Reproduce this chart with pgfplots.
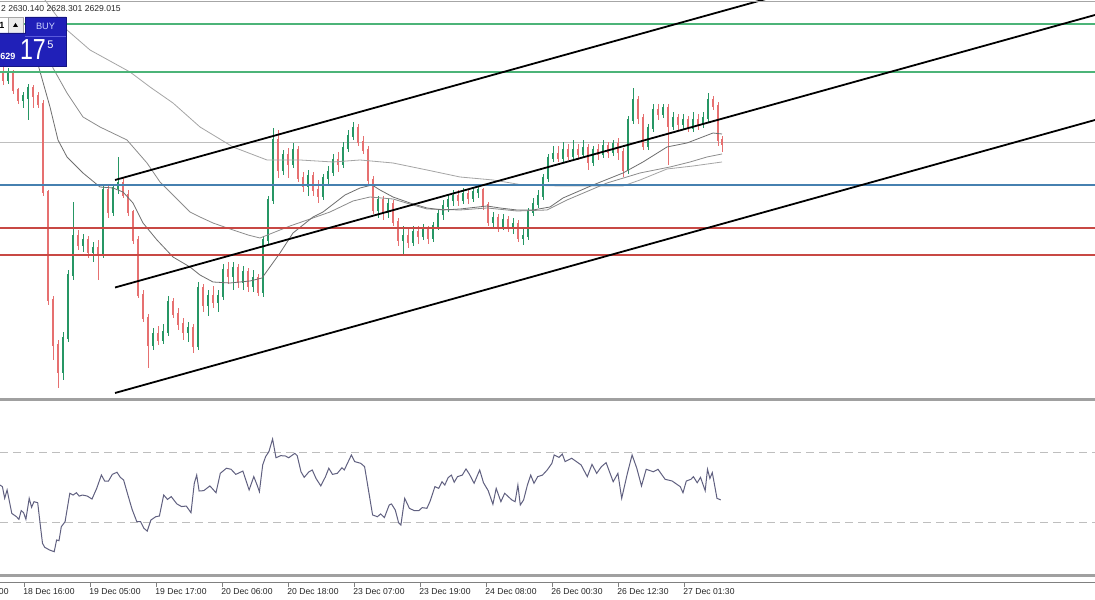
\documentclass[border=0pt]{standalone}
\usepackage{fontspec}
\setmainfont{Liberation Sans}
\usepackage{pgfplots}
\usepackage{pgfplotstable}
\pgfplotsset{compat=1.18}

\definecolor{bull}{RGB}{38,150,100}
\definecolor{bear}{RGB}{230,112,112}
\definecolor{lvgreen}{RGB}{76,180,120}
\definecolor{lvblue}{RGB}{70,128,176}
\definecolor{lvred}{RGB}{200,72,68}
\definecolor{bidgray}{RGB}{190,190,190}
\definecolor{mafast}{RGB}{110,110,110}
\definecolor{mamid}{RGB}{140,140,140}
\definecolor{maslow}{RGB}{165,165,165}
\definecolor{rsiline}{RGB}{96,96,128}
\definecolor{panelblue}{RGB}{32,32,184}
\definecolor{paneledge}{RGB}{20,20,130}
\definecolor{panelrule}{RGB}{90,90,220}
\definecolor{buytext}{RGB}{205,212,255}
\definecolor{frame}{RGB}{160,160,160}

% price candles, one every 5 px of the screen (x = screen column)
\pgfplotstableread{
x o h l c
3 2645.6 2646.8 2643.0 2644.0
8 2644.0 2646.4 2643.2 2645.2
13 2645.2 2646.0 2641.2 2642.0
18 2642.0 2642.4 2639.2 2640.0
23 2640.0 2641.6 2638.4 2640.8
28 2640.4 2643.2 2636.0 2642.4
33 2642.4 2643.0 2638.4 2640.8
38 2640.8 2641.6 2638.4 2639.2
43 2639.2 2640.0 2620.8 2621.6
48 2621.6 2622.0 2599.0 2600.0
53 2600.0 2600.8 2588.0 2591.0
58 2591.0 2592.0 2582.4 2585.6
63 2585.6 2593.6 2584.0 2592.4
68 2592.4 2606.0 2591.6 2605.0
73 2605.0 2619.6 2604.0 2612.8
78 2612.8 2614.0 2610.0 2611.0
83 2611.0 2613.2 2609.6 2612.0
88 2612.0 2612.8 2608.4 2609.6
93 2609.6 2611.6 2607.6 2610.4
98 2610.4 2612.0 2604.0 2609.0
103 2609.0 2622.8 2608.4 2622.0
108 2622.0 2622.8 2616.4 2617.6
113 2617.6 2623.2 2616.8 2622.4
118 2622.4 2628.6 2621.2 2623.4
123 2623.4 2624.4 2620.4 2621.0
128 2621.0 2622.0 2616.8 2617.6
133 2617.6 2618.0 2611.2 2612.0
138 2612.0 2612.8 2600.4 2601.0
143 2601.0 2602.0 2595.6 2596.4
148 2596.4 2597.2 2586.4 2591.0
153 2591.0 2594.4 2590.0 2593.2
158 2593.2 2594.8 2591.0 2592.0
163 2592.0 2595.2 2591.2 2593.6
168 2593.6 2600.8 2592.8 2599.6
173 2599.6 2600.4 2596.4 2597.2
178 2597.2 2598.4 2594.0 2595.2
183 2595.2 2596.4 2592.0 2593.6
188 2593.6 2595.6 2591.6 2594.4
193 2594.4 2595.2 2589.4 2590.8
198 2590.8 2603.6 2590.0 2602.4
203 2602.4 2603.2 2597.6 2599.0
208 2599.0 2602.0 2596.8 2600.8
213 2600.8 2602.8 2598.4 2599.6
218 2599.6 2602.0 2597.6 2600.8
223 2600.8 2607.2 2600.0 2606.0
228 2606.0 2607.6 2603.2 2604.8
233 2604.8 2607.6 2602.0 2606.4
238 2606.4 2607.2 2602.4 2603.6
243 2603.6 2606.8 2602.0 2605.6
248 2605.6 2606.4 2601.6 2602.8
253 2602.8 2606.0 2601.6 2604.4
258 2604.4 2605.2 2600.8 2601.6
263 2601.6 2612.8 2600.6 2612.0
268 2612.0 2620.8 2611.2 2620.0
273 2620.0 2634.4 2619.2 2632.0
278 2632.0 2634.0 2624.4 2626.0
283 2626.0 2630.0 2625.0 2629.0
288 2629.0 2630.4 2624.4 2627.2
293 2627.2 2631.4 2626.4 2630.0
298 2630.0 2630.8 2623.6 2624.4
303 2624.4 2625.6 2621.6 2622.8
308 2622.8 2626.0 2620.8 2624.8
313 2624.8 2625.6 2620.8 2622.0
318 2622.0 2624.0 2619.4 2620.8
323 2620.8 2625.2 2620.0 2624.4
328 2624.4 2626.8 2622.8 2625.6
333 2625.6 2629.2 2624.8 2628.0
338 2628.0 2629.6 2625.6 2627.2
343 2627.2 2631.6 2626.4 2630.4
348 2630.4 2634.0 2629.6 2632.8
353 2632.8 2635.6 2632.0 2634.4
358 2634.4 2635.2 2630.8 2631.6
363 2631.6 2632.8 2629.2 2630.0
368 2630.0 2630.8 2622.8 2624.0
373 2624.0 2624.8 2617.2 2618.0
378 2618.0 2620.8 2616.4 2620.0
383 2620.0 2620.8 2616.0 2617.6
388 2617.6 2620.4 2616.4 2619.2
393 2619.2 2620.0 2614.8 2615.6
398 2615.6 2616.4 2610.8 2612.0
403 2612.0 2614.8 2609.0 2612.8
408 2612.8 2614.4 2610.4 2611.6
413 2611.6 2614.8 2610.8 2613.6
418 2613.6 2614.8 2611.2 2612.8
423 2612.8 2615.2 2612.0 2614.0
428 2614.0 2614.8 2611.2 2612.4
433 2612.4 2615.6 2611.6 2614.8
438 2614.8 2618.0 2614.0 2617.2
443 2617.2 2620.0 2616.0 2618.8
448 2618.8 2621.2 2617.6 2620.0
453 2620.0 2622.0 2618.8 2620.8
458 2620.8 2622.0 2618.8 2620.0
463 2620.0 2622.4 2619.2 2621.2
468 2621.2 2622.0 2619.2 2620.4
473 2620.4 2622.4 2619.6 2621.6
478 2621.6 2622.8 2620.4 2622.0
483 2622.0 2622.4 2618.0 2619.0
488 2619.0 2619.6 2614.8 2615.6
493 2615.6 2617.6 2614.4 2616.4
498 2616.4 2617.2 2613.6 2614.8
503 2614.8 2617.2 2614.0 2616.0
508 2616.0 2616.8 2613.6 2614.4
513 2614.4 2616.4 2613.2 2615.2
518 2615.2 2616.0 2611.6 2612.4
523 2612.4 2614.4 2611.0 2612.8
528 2612.8 2618.4 2612.0 2617.6
533 2617.6 2620.4 2616.8 2619.2
538 2619.2 2622.0 2618.4 2620.8
543 2620.8 2625.2 2620.0 2624.4
548 2624.4 2629.2 2623.6 2628.4
553 2628.4 2630.8 2627.6 2629.2
558 2629.2 2630.8 2627.6 2628.4
563 2628.4 2631.6 2627.6 2630.0
568 2630.0 2631.2 2628.0 2628.8
573 2628.8 2632.0 2628.0 2630.0
578 2630.0 2631.2 2628.0 2629.2
583 2629.2 2632.0 2628.4 2630.4
588 2630.4 2631.2 2626.0 2627.6
593 2627.6 2630.8 2626.8 2630.0
598 2630.0 2631.2 2628.0 2629.2
603 2629.2 2632.0 2628.4 2630.8
608 2630.8 2631.6 2628.4 2629.6
613 2629.6 2632.0 2628.8 2631.2
618 2631.2 2632.4 2628.0 2629.6
623 2629.6 2630.4 2624.6 2626.0
628 2626.0 2636.8 2625.2 2636.0
633 2636.0 2642.4 2635.2 2640.0
638 2640.0 2640.8 2635.2 2636.4
643 2636.4 2637.2 2630.0 2630.8
648 2630.8 2635.2 2630.0 2634.4
653 2634.4 2639.2 2633.6 2638.0
658 2638.0 2639.2 2636.0 2637.2
663 2637.2 2639.2 2636.4 2638.4
668 2638.4 2639.2 2627.0 2634.8
673 2634.8 2637.6 2634.0 2636.4
678 2636.4 2637.2 2634.0 2635.2
683 2635.2 2637.2 2634.0 2636.0
688 2636.0 2636.8 2633.6 2634.4
693 2634.4 2637.6 2633.6 2636.0
698 2636.0 2637.2 2634.0 2635.2
703 2635.2 2637.6 2634.4 2636.4
708 2636.4 2641.4 2635.6 2640.0
713 2640.0 2640.8 2638.0 2638.8
718 2638.8 2639.6 2630.8 2632.0
722 2632.0 2632.8 2629.6 2631.2
}\candles

\pgfplotstableread{
x y
35 2650.0
39 2646.4
50 2638.6
58 2632.0
67 2628.6
83 2625.4
100 2622.6
113 2622.4
123 2621.6
133 2619.4
143 2615.4
157 2612.0
173 2608.6
190 2606.6
200 2605.0
213 2603.6
230 2603.4
250 2603.8
262 2604.4
280 2609.4
293 2613.4
313 2616.6
323 2617.6
345 2621.0
360 2622.4
372 2623.0
380 2622.0
393 2620.6
410 2619.4
427 2618.4
443 2618.0
460 2618.2
487 2618.8
500 2618.4
517 2618.0
533 2618.0
550 2618.6
563 2620.4
593 2623.0
623 2625.4
643 2627.6
667 2630.6
687 2631.4
713 2633.4
722 2633.2
}\mafasttab

\pgfplotstableread{
x y
48 2650.0
53 2646.4
67 2641.4
83 2636.6
100 2634.6
127 2632.0
147 2627.4
160 2623.6
173 2621.0
190 2617.6
200 2616.6
213 2615.4
233 2614.0
248 2613.0
260 2612.4
270 2613.2
290 2614.8
313 2616.4
330 2617.6
353 2619.8
370 2620.6
393 2620.2
413 2619.0
427 2618.2
460 2618.0
487 2618.4
517 2617.8
547 2618.0
567 2620.0
607 2623.4
640 2625.4
670 2626.6
690 2627.6
707 2628.6
722 2629.2
}\mamidtab

\pgfplotstableread{
x y
40 2661.0
45 2660.0
67 2654.0
90 2650.0
130 2645.6
150 2642.6
173 2639.4
200 2634.6
233 2630.6
267 2628.0
300 2628.0
333 2627.6
360 2628.0
393 2627.4
427 2626.0
460 2624.6
493 2624.0
523 2623.0
560 2622.8
623 2622.8
640 2624.0
667 2626.2
693 2626.8
722 2627.6
}\maslowtab

\pgfplotstableread{
x r
0 51.4
2.4 50.5
4.7 43.8
7.1 48.6
11.8 35.2
16.5 33.3
18.9 31.8
21.2 36.8
23.6 35.6
25.9 31.8
29.2 43.8
31.6 38.7
34.0 41.9
37.7 41.3
40.1 29.5
42.5 18.1
44.8 15.8
49.5 14.3
54.2 13.3
56.6 20.0
59.0 19.6
61.3 27.6
65.1 30.5
69.8 46.7
73.1 45.7
76.4 47.0
79.2 45.1
82.5 45.7
87.3 45.1
92.0 43.4
96.7 49.5
101.4 57.1
104.7 53.7
108.5 53.7
112.3 57.5
117.0 58.7
120.3 55.8
123.6 54.3
127.4 46.7
132.1 37.5
136.8 30.5
140.6 30.5
143.9 26.7
147.2 25.1
150.9 31.4
155.7 33.3
159.4 33.7
163.7 45.7
167.5 43.2
171.2 44.8
176.9 40.6
181.6 39.1
186.3 39.4
191.0 35.6
194.3 52.4
196.7 57.1
199.1 48.0
203.8 48.2
209.9 50.9
216.0 47.0
220.3 58.1
226.4 61.0
231.1 60.4
235.8 57.5
242.9 59.4
249.1 48.6
253.8 56.2
257.1 51.4
259.4 47.6
262.7 62.9
265.6 67.6
268.9 70.5
272.6 77.7
276.0 67.0
280.7 68.2
285.4 68.0
288.7 67.0
294.8 69.5
297.2 68.2
301.0 59.0
304.2 55.8
309.0 59.0
312.3 60.0
316.0 55.2
320.8 50.9
325.5 56.2
328.8 61.0
332.5 57.5
337.3 58.1
342.0 61.3
344.3 60.0
351.4 68.6
354.7 64.8
360.8 63.8
364.6 61.9
367.9 50.5
372.6 34.3
377.4 33.3
380.7 34.9
384.4 32.8
389.2 40.0
391.5 40.6
395.3 37.1
398.6 29.9
400.9 28.6
404.7 43.8
409.4 38.1
414.2 36.8
418.9 36.8
422.2 38.5
426.9 38.1
430.2 42.3
434.9 50.5
438.7 49.5
442.0 53.3
444.8 51.4
448.1 55.6
451.4 57.1
454.2 53.0
457.5 56.2
462.3 57.1
466.0 60.6
469.3 57.7
474.1 52.4
479.7 60.0
483.5 52.7
488.2 48.2
492.9 40.4
496.2 49.5
500.9 41.9
504.7 46.7
511.8 42.9
515.1 41.9
517.9 51.4
520.3 40.0
523.6 42.9
527.4 51.4
530.7 57.1
534.0 52.4
537.7 56.2
542.5 57.1
547.2 60.0
551.9 63.8
554.2 68.6
559.0 67.2
562.3 69.1
565.1 64.8
571.7 66.7
576.4 64.8
581.1 62.9
587.3 56.2
592.0 63.2
596.7 58.1
601.4 61.9
606.1 64.2
613.2 53.3
617.9 58.1
621.7 43.8
627.4 58.1
632.1 68.6
636.8 61.0
641.5 50.9
646.2 60.4
653.3 59.0
658.0 60.4
665.1 54.7
672.2 53.7
676.9 51.8
680.2 50.5
683.0 47.0
686.3 53.7
691.0 54.7
693.4 56.2
697.2 52.7
700.5 55.8
705.2 48.2
707.5 60.4
709.9 55.2
712.3 58.5
717.0 43.8
720.8 42.9
}\rsi

\begin{document}
\begin{tikzpicture}
\useasboundingbox (0,0) rectangle (1095bp,600bp);
\fill[white] (0,0) rectangle (1095bp,600bp);
\clip (0,0) rectangle (1095bp,600bp);

% ---------- price panel ----------
\begin{axis}[at={(0,202bp)}, anchor=south west, scale only axis,
  width=1095bp, height=398bp, xmin=0, xmax=1095, ymin=2580.4, ymax=2660,
  hide axis]
  \addplot[bidgray, line width=1bp] coordinates {(0,2631.4) (1095,2631.4)};
  % wicks
  \addplot[draw=none, mark=none, forget plot,
    error bars/.cd, y dir=both, y explicit, error mark=none,
    error bar style={line width=1bp, draw=bull, solid}]
    table[x=x, y expr={\thisrow{c}>=\thisrow{o} ? (\thisrow{h}+\thisrow{l})/2 : nan},
      y error expr={(\thisrow{h}-\thisrow{l})/2}] {\candles};
  \addplot[draw=none, mark=none, forget plot,
    error bars/.cd, y dir=both, y explicit, error mark=none,
    error bar style={line width=1bp, draw=bear, solid}]
    table[x=x, y expr={\thisrow{c}<\thisrow{o} ? (\thisrow{h}+\thisrow{l})/2 : nan},
      y error expr={(\thisrow{h}-\thisrow{l})/2}] {\candles};
  % bodies
  \addplot[draw=none, mark=none, forget plot,
    error bars/.cd, y dir=both, y explicit, error mark=none,
    error bar style={line width=2.8bp, draw=bull, solid, line cap=butt}]
    table[x=x, y expr={\thisrow{c}>=\thisrow{o} ? (\thisrow{o}+\thisrow{c})/2 : nan},
      y error expr={(\thisrow{c}-\thisrow{o})/2+0.15}] {\candles};
  \addplot[draw=none, mark=none, forget plot,
    error bars/.cd, y dir=both, y explicit, error mark=none,
    error bar style={line width=2.8bp, draw=bear, solid, line cap=butt}]
    table[x=x, y expr={\thisrow{c}<\thisrow{o} ? (\thisrow{o}+\thisrow{c})/2 : nan},
      y error expr={(\thisrow{o}-\thisrow{c})/2+0.15}] {\candles};
  % moving averages
  \addplot[maslow, line width=0.8bp] table[x=x, y=y] {\maslowtab};
  \addplot[mamid, line width=0.8bp] table[x=x, y=y] {\mamidtab};
  \addplot[mafast, line width=0.8bp] table[x=x, y=y] {\mafasttab};
  % horizontal levels
  \addplot[lvgreen, line width=1.1bp] coordinates {(0,2655.2) (1095,2655.2)};
  \addplot[lvgreen, line width=1.1bp] coordinates {(0,2645.6) (1095,2645.6)};
  \addplot[lvblue, line width=2bp] coordinates {(0,2622.9) (1095,2622.9)};
  \addplot[lvred, line width=1.8bp] coordinates {(0,2614.4) (1095,2614.4)};
  \addplot[lvred, line width=1.8bp] coordinates {(0,2609.0) (1095,2609.0)};
  % channel
  \addplot[black, line width=1.8bp] coordinates {(115,2624.0) (1095,2678.5)};
  \addplot[black, line width=1.8bp] coordinates {(115,2602.5) (1095,2657.0)};
  \addplot[black, line width=1.8bp] coordinates {(115,2581.4) (1095,2636.0)};
\end{axis}

% ---------- oscillator panel ----------
\begin{axis}[at={(0,25bp)}, anchor=south west, scale only axis,
  width=1095bp, height=175bp, xmin=0, xmax=1095, ymin=0, ymax=100,
  hide axis]
  \addplot[bidgray, line width=1bp, dash pattern=on 8bp off 5bp] coordinates {(0,70) (1095,70)};
  \addplot[bidgray, line width=1bp, dash pattern=on 8bp off 5bp] coordinates {(0,30) (1095,30)};
  \addplot[rsiline, line width=1bp] table[x=x, y=r] {\rsi};
\end{axis}

% frames
\draw[gray!70, line width=1bp] (0,598.5bp) -- (1095bp,598.5bp);
\draw[frame, line width=3bp] (0,200.5bp) -- (1095bp,200.5bp);
\draw[frame, line width=3bp] (0,24.5bp) -- (1095bp,24.5bp);
\draw[gray, line width=1bp] (0,17bp) -- (1095bp,17bp);

% time scale
\begin{scope}[font=\fontsize{8.6bp}{10bp}\selectfont, text=black!85]
\foreach \t [count=\k from -1] in {18 Dec 03:00, 18 Dec 16:00, 19 Dec 05:00, 19 Dec 17:00,
  20 Dec 06:00, 20 Dec 18:00, 23 Dec 07:00, 23 Dec 19:00, 24 Dec 08:00,
  26 Dec 00:30, 26 Dec 12:30, 27 Dec 01:30} {
  \pgfmathsetmacro{\xt}{24+66*\k}
  \draw[gray, line width=0.8bp] (\xt bp,17bp) -- (\xt bp,13bp);
  \node[anchor=west, inner sep=0pt] at (\xt bp-0.8bp,8bp) {\t};
}
\node[anchor=west, inner sep=0pt] at (1bp,591.5bp) {2 2630.140 2628.301 2629.015};
\end{scope}

% one-click trading box
\draw[gray!60, fill=white] (-2bp,583bp) rectangle (8bp,567bp);
\node[inner sep=0pt, font=\fontsize{9bp}{10bp}\selectfont\bfseries] at (2bp,575bp) {1};
\draw[gray!70, fill=gray!15] (8.5bp,583bp) rectangle (23.5bp,567bp);
\fill[black] (13bp,573bp) -- (18bp,573bp) -- (15.5bp,577bp) -- cycle;
\filldraw[fill=panelblue, draw=paneledge] (25bp,583bp) -- (66bp,583bp) -- (66bp,534bp)
  -- (-1bp,534bp) -- (-1bp,567bp) -- (25bp,567bp) -- cycle;
\draw[panelrule, line width=0.6bp] (25bp,564bp) -- (66bp,564bp);
\node[inner sep=0pt, text=buytext,
  font=\fontsize{9.2bp}{10bp}\selectfont] at (45.5bp,574bp) {BUY};
\node[anchor=east, inner sep=0pt, text=white,
  font=\fontsize{9bp}{10bp}\selectfont\bfseries] at (15.5bp,544bp) {629};
\node[inner sep=0pt, text=white, xscale=0.8,
  font=\fontsize{29bp}{30bp}\selectfont] at (33bp,550bp) {17};
\node[inner sep=0pt, text=white,
  font=\fontsize{11bp}{12bp}\selectfont] at (50.5bp,555.5bp) {5};
\end{tikzpicture}
\end{document}
